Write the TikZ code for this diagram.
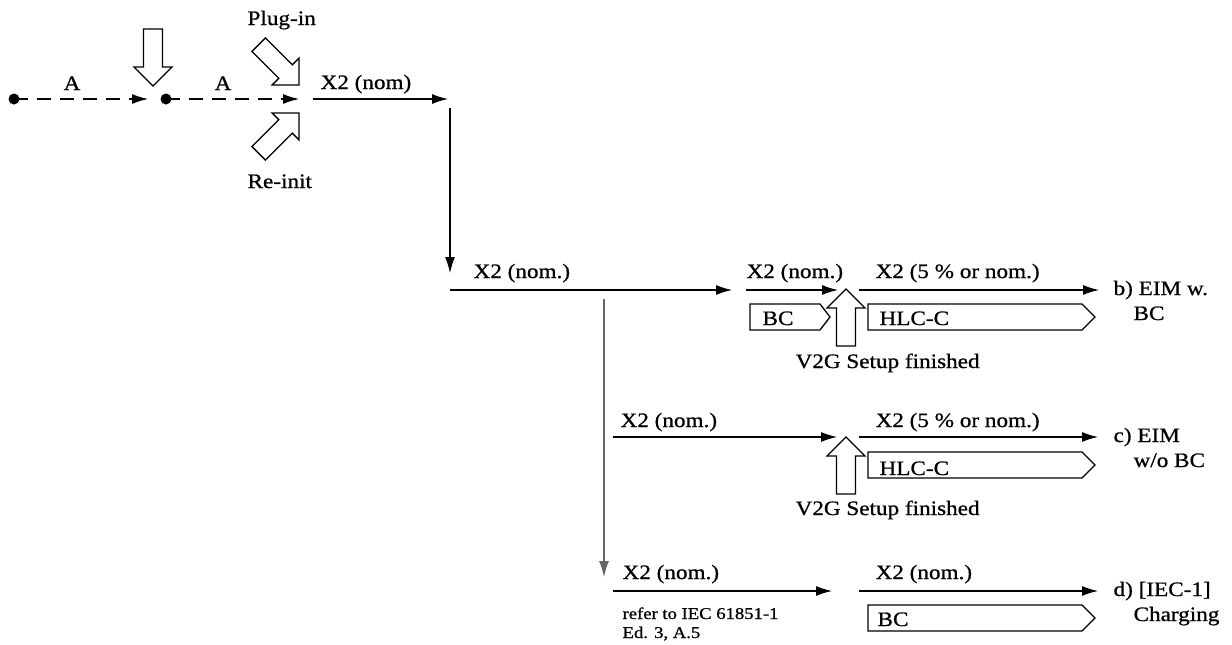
\documentclass[tikz,border=0pt]{standalone}
\usepackage{fontspec}
\setmainfont{Liberation Serif}[FakeStretch=1.13,FakeBold=0.8]
\usetikzlibrary{arrows.meta}
\tikzset{blk/.pic={\draw[line width=1.3pt, fill=white, line join=miter] (0,0) -- (-19,-19) -- (-19,-9.5) -- (-57,-9.5) -- (-57,9.5) -- (-19,9.5) -- (-19,19) -- cycle;}}
\begin{document}
\begin{tikzpicture}[x=1pt,y=-1pt, line width=1.2pt,
  arr/.style={-{Latex[length=16pt,width=10pt]}},
  dsh/.style={dash pattern=on 14pt off 9pt},
  txt/.style={font=\fontsize{20.5}{23}\selectfont, inner sep=0pt, anchor=base west},
  txtc/.style={font=\fontsize{20.5}{23}\selectfont, inner sep=0pt, anchor=base},
  sml/.style={font=\fontsize{16.5}{18}\selectfont, inner sep=0pt, anchor=base west},
  dot/.style={circle, fill, inner sep=0pt, minimum size=11pt},
  boxs/.style={line width=1.3pt, line join=miter},
  gline/.style={draw=black!60}]
\useasboundingbox (0,0) rectangle (1232,645);
% top row
\node[dot] (d1) at (14,99) {};
\node[dot] (d2) at (166,99) {};
\coordinate (e1) at (148,99);
\coordinate (j1) at (299,99);
\draw[arr,dsh] (d1.center) -- (e1);
\draw[arr,dsh] (d2.center) -- (j1);
\node[txtc] (la1) at (72,90) {A};
\node[txtc] (la2) at (223,90) {A};
\pic at (153,86) [rotate=-90] {blk};
\pic at (299,85) [rotate=-45] {blk};
\pic at (299,113) [rotate=45] {blk};
\node[txt] (plug) at (247,25) {Plug-in};
\node[txt] (reinit) at (247,188) {Re-init};
\coordinate (s1) at (313,99);
\coordinate (e2) at (448,99);
\draw[arr] (s1) -- (e2);
\node[txt] (l0) at (320,89) {X2 (nom)};
\coordinate (v1) at (450,108);
\coordinate (v1e) at (450,273);
\draw[arr] (v1) -- (v1e);
% row b
\coordinate (b0) at (450,290);
\coordinate (b1) at (732,290);
\draw[arr] (b0) -- (b1);
\node[txt] (lb1) at (473,278) {X2 (nom.)};
\coordinate (b2) at (746,290);
\coordinate (b3) at (838,290);
\draw[arr] (b2) -- (b3);
\node[txt] (lb2) at (746,278) {X2 (nom.)};
\coordinate (b4) at (859,290);
\coordinate (b5) at (1099,290);
\draw[arr] (b4) -- (b5);
\node[txt] (lb3) at (875,278) {X2 (5 \% or nom.)};
\draw[boxs] (750,304) -- (820,304) -- (830,317) -- (820,330) -- (750,330) -- cycle;
\node[txt] (bcb) at (762,325) {BC};
\pic at (846,289) [rotate=90] {blk};
\draw[boxs] (868,304) -- (1082,304) -- (1095,317) -- (1082,330) -- (868,330) -- cycle;
\node[txt] (hlcb) at (879,325) {HLC-C};
\node[txt] (v2gb) at (795,368) {V2G Setup finished};
\node[txt] (rb1) at (1113,295) {b) EIM w.};
\node[txt] (rb2) at (1133,320) {BC};
% gray vertical
\coordinate (v2) at (604,299);
\coordinate (v2e) at (604,577);
\draw[arr,gline] (v2) -- (v2e);
% row c
\coordinate (c0) at (613,437);
\coordinate (c1) at (837,437);
\draw[arr] (c0) -- (c1);
\node[txt] (lc1) at (620,427) {X2 (nom.)};
\coordinate (c2) at (859,437);
\coordinate (c3) at (1098,437);
\draw[arr] (c2) -- (c3);
\node[txt] (lc2) at (875,427) {X2 (5 \% or nom.)};
\pic at (846,437) [rotate=90] {blk};
\draw[boxs] (868,452) -- (1082,452) -- (1095,465) -- (1082,478) -- (868,478) -- cycle;
\node[txt] (hlcc) at (879,475) {HLC-C};
\node[txt] (v2gc) at (795,515) {V2G Setup finished};
\node[txt] (rc1) at (1113,442) {c) EIM};
\node[txt] (rc2) at (1133,467) {w/o BC};
% row d
\coordinate (dd0) at (613,591);
\coordinate (dd1) at (832,591);
\draw[arr] (dd0) -- (dd1);
\node[txt] (ld1) at (622,579) {X2 (nom.)};
\node[sml] (ref1) at (622,619) {refer to IEC 61851-1};
\node[sml] (ref2) at (622,638) {Ed. 3, A.5};
\coordinate (dd2) at (859,591);
\coordinate (dd3) at (1098,591);
\draw[arr] (dd2) -- (dd3);
\node[txt] (ld2) at (875,579) {X2 (nom.)};
\draw[boxs] (868,605) -- (1082,605) -- (1095,618) -- (1082,631) -- (868,631) -- cycle;
\node[txt] (bcd) at (877,626) {BC};
\node[txt] (rd1) at (1113,596) {d) [IEC-1]};
\node[txt] (rd2) at (1133,621) {Charging};
\end{tikzpicture}
\end{document}
